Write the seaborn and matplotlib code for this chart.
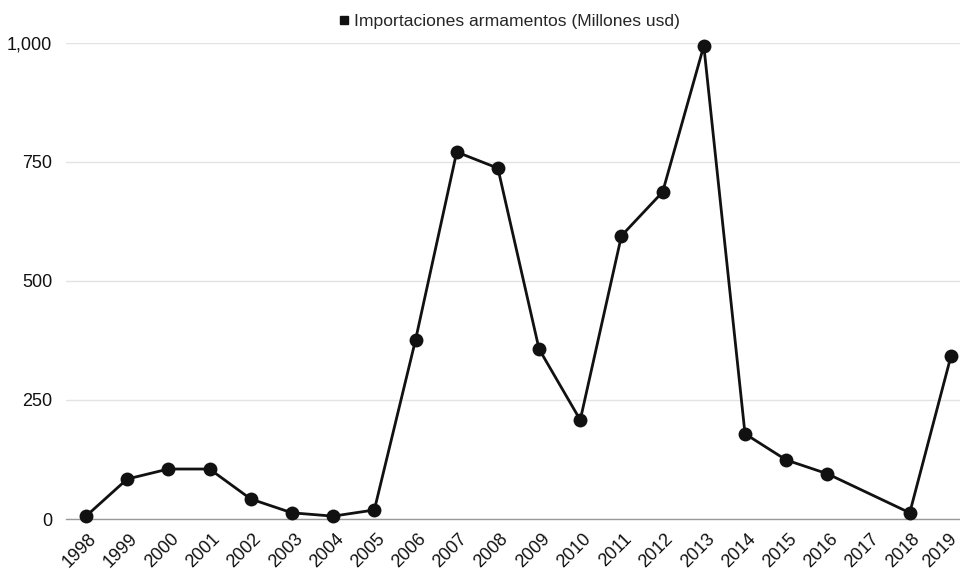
import matplotlib
matplotlib.use("Agg")
import matplotlib.pyplot as plt
import matplotlib.ticker as mticker
import matplotlib.transforms as mtransforms
from matplotlib.lines import Line2D
import seaborn as sns
import pandas as pd

years = [1998, 1999, 2000, 2001, 2002, 2003, 2004, 2005, 2006, 2007, 2008,
         2009, 2010, 2011, 2012, 2013, 2014, 2015, 2016, 2018, 2019]
values = [6, 84, 105, 105, 42, 13, 6, 19, 376, 771, 737,
          357, 208, 595, 687, 994, 179, 124, 95, 13, 342]
tick_years = list(range(1998, 2020))
y_ticks = [0, 250, 500, 750, 1000]
series_name = "Importaciones armamentos (Millones usd)"

sns.set_theme(style="white")
plt.rcParams['font.family'] = ['Liberation Sans', 'DejaVu Sans']

df = pd.DataFrame({"Año": years, "Valor": values})

fig = plt.figure(figsize=(9.6, 5.69), dpi=100)
ax = fig.add_axes([66/960, 1 - 519/569, 1 - 66/960, (519 - 43)/569])

sns.lineplot(data=df, x="Año", y="Valor", ax=ax, color="#111111",
             linewidth=2.0, marker="o", markersize=10, markeredgewidth=0,
             clip_on=False, zorder=3)

ax.set_xlim(1997.514, 2019.22)
ax.set_ylim(0, 1000)
ax.set_xticks(tick_years)
ax.set_xticklabels([str(y) for y in tick_years], rotation=45, ha="right",
                   rotation_mode="anchor", fontsize=13, color="#111111")
ax.set_yticks(y_ticks)
ax.yaxis.set_major_formatter(mticker.FuncFormatter(lambda v, p: f"{int(v):,}"))
ax.tick_params(axis="y", labelsize=13, labelcolor="#111111", length=0, pad=10)
ax.tick_params(axis="x", length=0, pad=8)
ax.set_xlabel("")
ax.set_ylabel("")

# nudge labels slightly right, keep last one inside the figure
labels = ax.get_xticklabels()
for i, lab in enumerate(labels):
    dx = 2 if i < len(labels) - 1 else -3
    lab.set_transform(lab.get_transform() +
                      mtransforms.ScaledTranslation(dx / 100, 0, fig.dpi_scale_trans))

ax.grid(axis="y", color="#e3e3e3", linewidth=1.0)
ax.grid(axis="x", visible=False)
for s in ["top", "right", "left"]:
    ax.spines[s].set_visible(False)
ax.spines["bottom"].set_color("#999999")
ax.spines["bottom"].set_linewidth(1.0)

handle = Line2D([], [], marker="s", linestyle="none", color="#111111", markersize=6)
ax.legend([handle], [series_name], loc="lower center",
          bbox_to_anchor=(0.494, 1.0), frameon=False, fontsize=12.6,
          handletextpad=0.1, borderaxespad=0.4, handlelength=1.0)

fig.savefig("out.png", dpi=100)
